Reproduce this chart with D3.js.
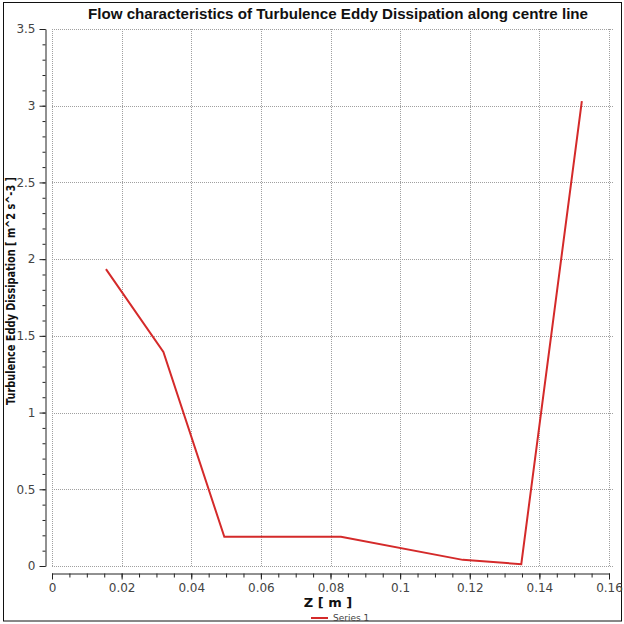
<!DOCTYPE html>
<html>
<head>
<meta charset="utf-8">
<script src="https://cdn.jsdelivr.net/npm/d3@7"></script>
<style>
  body { margin: 0; background: #fff; }
  svg { display: block; }
</style>
</head>
<body>
<svg id="graph"></svg>
<script>
// values
let zValues = [0.0155, 0.032, 0.0495, 0.083, 0.118, 0.1348, 0.1522]
let dissipation = [1.935, 1.395, 0.19, 0.19, 0.04, 0.012, 3.03]
let xTicks = [0, 0.02, 0.04, 0.06, 0.08, 0.1, 0.12, 0.14, 0.16]
let yTicks = [0, 0.5, 1, 1.5, 2, 2.5, 3, 3.5]
let seriesName = 'Series 1'

let fullWidth = 624
let fullHeight = 624
let margin = {top: 29, bottom: 58, left: 52, right: 15}

let svg = d3.select('svg#graph')
            .attr('width', fullWidth)
            .attr('height', fullHeight)

svg.append('rect')
    .attr('width', fullWidth)
    .attr('height', fullHeight)
    .attr('fill', '#fff')

svg.append('rect')
    .attr('x', 3.5).attr('y', 2.5)
    .attr('width', 618).attr('height', 618.5)
    .attr('fill', 'none')
    .attr('stroke', '#111')
    .attr('stroke-width', 1)

let x = d3.scaleLinear().domain([0, 0.16]).range([margin.left, fullWidth - margin.right])
let y = d3.scaleLinear().domain([0, 3.5]).range([fullHeight - margin.bottom, margin.top])

let font = 'Tahoma, "DejaVu Sans", sans-serif'
let titleFont = '"Liberation Sans", Arial, sans-serif'

// grid
let grid = svg.append('g').attr('stroke', '#a0a0a0').attr('stroke-width', 1).attr('stroke-dasharray', '1,1')
grid.selectAll('line.v').data(xTicks).join('line')
    .attr('class', 'v')
    .attr('x1', d => Math.round(x(d)) + 0.5).attr('x2', d => Math.round(x(d)) + 0.5)
    .attr('y1', y(3.5)).attr('y2', y(0))
grid.selectAll('line.h').data(yTicks).join('line')
    .attr('class', 'h')
    .attr('x1', x(0)).attr('x2', x(0.16) + 4)
    .attr('y1', d => Math.round(y(d)) + 0.5).attr('y2', d => Math.round(y(d)) + 0.5)

// y axis, offset to the left of the plot
let yAxisX = margin.left - 7
svg.append('g')
    .attr('transform', 'translate(' + (yAxisX + 0.5) + ',0)')
    .call(d3.axisLeft(y).tickValues(d3.range(0, 3.51, 0.1)).tickSize(3).tickFormat(''))
    .call(g => g.select('.domain').remove())
    .selectAll('line').attr('stroke', '#222')
let yAxis = svg.append('g')
    .attr('transform', 'translate(' + (yAxisX + 0.5) + ',0)')
    .call(d3.axisLeft(y).tickValues(yTicks).tickSize(6).tickSizeOuter(0).tickPadding(4).tickFormat(d3.format('')))
yAxis.select('.domain').attr('stroke', '#222')
yAxis.selectAll('line').attr('stroke', '#222')
yAxis.selectAll('text').attr('font-family', font).attr('font-size', 12).attr('fill', '#444')

// x axis, offset below the plot
let xAxisY = fullHeight - margin.bottom + 7
svg.append('g')
    .attr('transform', 'translate(0,' + (xAxisY + 0.5) + ')')
    .call(d3.axisBottom(x).tickValues(d3.range(0, 0.1601, 0.005)).tickSize(4).tickFormat(''))
    .call(g => g.select('.domain').remove())
    .selectAll('line').attr('stroke', '#222')
let xAxis = svg.append('g')
    .attr('transform', 'translate(0,' + (xAxisY + 0.5) + ')')
    .call(d3.axisBottom(x).tickValues(xTicks).tickSize(6).tickSizeOuter(0).tickPadding(4).tickFormat(d3.format('')))
xAxis.select('.domain').attr('stroke', '#222')
xAxis.selectAll('line').attr('stroke', '#222')
xAxis.selectAll('text').attr('font-family', font).attr('font-size', 12).attr('fill', '#444')

// series
let data = zValues.map((z, i) => ({z, v: dissipation[i]}))
svg.append('path')
    .datum(data)
    .attr('fill', 'none')
    .attr('stroke', '#d42a2a')
    .attr('stroke-width', 2)
    .attr('d', d3.line().x(d => x(d.z)).y(d => y(d.v)))

// titles
svg.append('text')
    .attr('x', 338).attr('y', 19)
    .attr('text-anchor', 'middle')
    .attr('font-family', titleFont).attr('font-weight', 'bold').attr('font-size', 15)
    .attr('textLength', 500).attr('lengthAdjust', 'spacingAndGlyphs')
    .attr('fill', '#111')
    .text('Flow characteristics of Turbulence Eddy Dissipation along centre line')

svg.append('text')
    .attr('transform', 'translate(15,291) rotate(-90)')
    .attr('text-anchor', 'middle')
    .attr('font-family', font).attr('font-weight', 'bold').attr('font-size', 12)
    .attr('textLength', 228).attr('lengthAdjust', 'spacingAndGlyphs')
    .attr('fill', '#111')
    .text('Turbulence Eddy Dissipation [ m^2 s^-3 ]')

svg.append('text')
    .attr('x', 328).attr('y', 607)
    .attr('text-anchor', 'middle')
    .attr('font-family', font).attr('font-weight', 'bold').attr('font-size', 13)
    .attr('fill', '#111')
    .text('Z [ m ]')

// legend
let legend = svg.append('g').attr('transform', 'translate(311,618)')
legend.append('line')
    .attr('x1', 0).attr('x2', 17).attr('y1', 0).attr('y2', 0)
    .attr('stroke', '#d42a2a').attr('stroke-width', 2)
legend.append('text')
    .attr('x', 22).attr('y', 3)
    .attr('font-family', font).attr('font-size', 9).attr('fill', '#444')
    .text(seriesName)
</script>
</body>
</html>
